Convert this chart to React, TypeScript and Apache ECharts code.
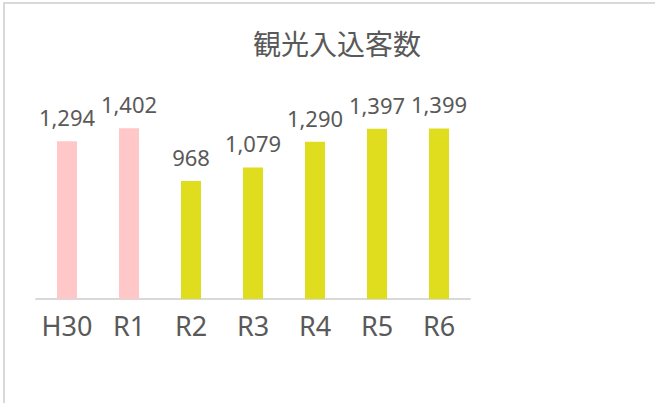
import React, { useEffect, useRef } from "react";
import * as echarts from "echarts";

const categories = ["H30", "R1", "R2", "R3", "R4", "R5", "R6"];
const values = [1294, 1402, 968, 1079, 1290, 1397, 1399];
const barColors = ["#FFC7C7", "#FFC7C7", "#E0DC1E", "#E0DC1E", "#E0DC1E", "#E0DC1E", "#E0DC1E"];
const title = "観光入込客数";

export default function App() {
  const ref = useRef<HTMLDivElement>(null);
  useEffect(() => {
    if (!ref.current) return;
    const chart = echarts.init(ref.current, undefined, { renderer: "svg" });
    chart.setOption({
      animation: false,
      backgroundColor: "#ffffff",
      title: {
        text: title,
        left: 332,
        top: 24,
        textAlign: "center",
        textStyle: {
          fontFamily: "Noto Sans CJK JP",
          fontSize: 28,
          fontWeight: "normal",
          color: "#595959",
        },
      },
      graphic: [
        {
          type: "rect",
          shape: { x: 4, y: 3, width: 800, height: 600 },
          style: { fill: "none", stroke: "#D9D9D9", lineWidth: 2 },
          silent: true,
        },
      ],
      grid: { left: 36, right: 655 - 470, top: 104, bottom: 403 - 299, containLabel: false },
      xAxis: {
        type: "category",
        data: categories,
        axisLine: { lineStyle: { color: "#D9D9D9", width: 2 } },
        axisTick: { show: false },
        axisLabel: {
          color: "#595959",
          fontFamily: "Noto Sans",
          fontSize: 27,
          margin: 13,
          interval: 0,
        },
      },
      yAxis: {
        type: "value",
        min: 0,
        max: 1600,
        show: false,
        splitLine: { show: false },
      },
      series: [
        {
          type: "bar",
          barWidth: 20,
          data: values.map((v, i) => ({ value: v, itemStyle: { color: barColors[i] } })),
          label: {
            show: true,
            position: "top",
            distance: 13,
            color: "#595959",
            fontFamily: "Noto Sans",
            fontSize: 22,
            formatter: (p: any) => Number(p.value).toLocaleString("en-US"),
          },
        },
      ],
    });
    return () => chart.dispose();
  }, []);
  return (
    <div
      ref={ref}
      style={{ position: "fixed", left: 0, top: 0, width: 655, height: 403 }}
    />
  );
}
